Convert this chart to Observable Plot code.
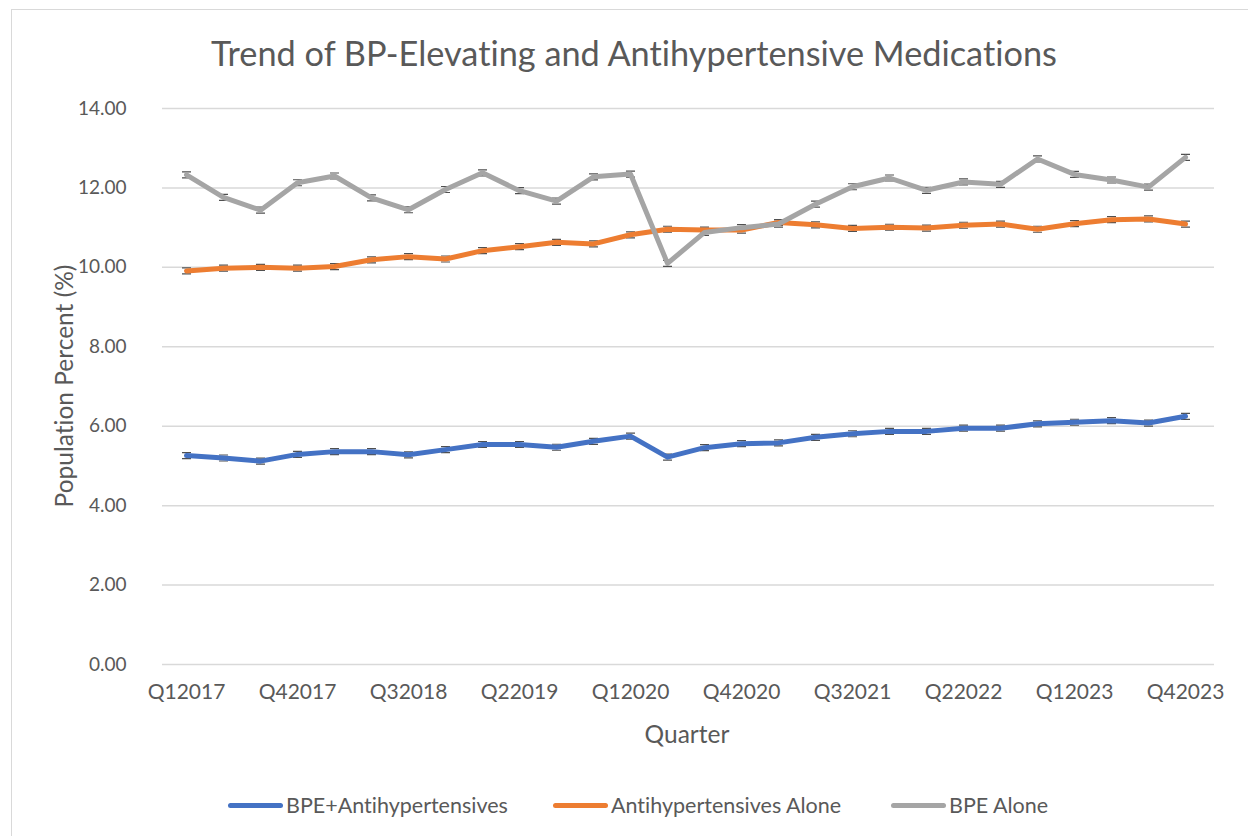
<!DOCTYPE html>
<html>
<head>
<meta charset="utf-8">
<script src="https://cdn.jsdelivr.net/npm/d3@7"></script>
<script src="https://cdn.jsdelivr.net/npm/@observablehq/plot@0.6"></script>
<style>
  html, body { margin: 0; padding: 0; background: #fff; }
  #wrap { position: relative; width: 1248px; height: 836px; overflow: hidden; font-family: Lato, "Open Sans", sans-serif; color: #595959; font-variant-ligatures: none; }
  #frame { position: absolute; left: 11px; top: 9px; width: 1260px; height: 860px; border: 1.5px solid #d9d9d9; box-sizing: border-box; }
  #chart { position: absolute; left: 0; top: 0; }
  .t { position: absolute; white-space: nowrap; }
  #title { left: 0; width: 1268px; text-align: center; top: 32px; font-size: 34.3px; }
  #xlab { left: 0; width: 1374px; text-align: center; top: 719px; font-size: 24.5px; }
  #ylab { left: 63px; top: 386px; font-size: 24.5px; transform: translate(-50%, -50%) rotate(-90deg); }
  .leg { position: absolute; top: 792px; height: 26px; display: flex; align-items: center; font-size: 21.5px; }
  .sw { width: 55px; height: 5px; border-radius: 3px; margin-right: 3px; }
</style>
</head>
<body>
<div id="wrap">
  <div id="frame"></div>
  <div id="chart"></div>
  <div class="t" id="title">Trend of BP-Elevating and Antihypertensive Medications</div>
  <div class="t" id="xlab">Quarter</div>
  <div class="t" id="ylab">Population Percent (%)</div>
  <div id="legend"></div>
</div>
<script>
const quarters = [
  "Q12017","Q22017","Q32017","Q42017",
  "Q12018","Q22018","Q32018","Q42018",
  "Q12019","Q22019","Q32019","Q42019",
  "Q12020","Q22020","Q32020","Q42020",
  "Q12021","Q22021","Q32021","Q42021",
  "Q12022","Q22022","Q32022","Q42022",
  "Q12023","Q22023","Q32023","Q42023"
];
const xTickLabels = ["Q12017","Q42017","Q32018","Q22019","Q12020","Q42020","Q32021","Q22022","Q12023","Q42023"];
const yTicks = [0, 2, 4, 6, 8, 10, 12, 14];

const seriesNames = ["BPE+Antihypertensives", "Antihypertensives Alone", "BPE Alone"];
const seriesColors = ["#4472C4", "#ED7D31", "#A5A5A5"];

const bpeAntihypertensives = [5.26,5.20,5.12,5.29,5.36,5.36,5.28,5.41,5.54,5.54,5.47,5.62,5.75,5.22,5.46,5.56,5.58,5.72,5.81,5.87,5.87,5.95,5.95,6.06,6.10,6.14,6.08,6.25];
const antihypertensivesAlone = [9.91,9.98,10.00,9.98,10.02,10.19,10.27,10.21,10.42,10.52,10.63,10.59,10.82,10.96,10.94,10.94,11.13,11.07,10.98,11.01,10.99,11.06,11.09,10.96,11.10,11.20,11.22,11.09];
const bpeAlone = [12.33,11.76,11.44,12.13,12.30,11.75,11.45,11.96,12.38,11.93,11.67,12.28,12.35,10.10,10.88,11.00,11.09,11.59,12.03,12.25,11.94,12.15,12.09,12.73,12.34,12.20,12.02,12.77];

const seriesValues = [bpeAntihypertensives, antihypertensivesAlone, bpeAlone];

const rows = seriesValues.map((vals, s) => vals.map((v, i) => ({quarter: quarters[i], value: v, series: seriesNames[s]})));
const allRows = rows.flat();

// error-bar caps: two short horizontal strokes
const capSymbol = {
  draw(ctx, size) {
    const w = 4.5, o = 3;
    ctx.moveTo(-w, -o); ctx.lineTo(w, -o);
    ctx.moveTo(-w, o); ctx.lineTo(w, o);
  }
};

const chart = Plot.plot({
  width: 1248,
  height: 836,
  marginLeft: 162,
  marginRight: 34,
  marginTop: 108,
  marginBottom: 172,
  style: {fontFamily: "Lato, 'Open Sans', sans-serif", fontSize: "19px", color: "#595959", background: "transparent", overflow: "visible"},
  x: {type: "point", domain: quarters, range: [176, 1195], padding: 0},
  y: {domain: [0, 14]},
  marks: [
    Plot.gridY(yTicks, {stroke: "#d9d9d9", strokeOpacity: 1, strokeWidth: 1.5}),
    Plot.axisY(yTicks, {tickSize: 0, tickPadding: 36, tickFormat: d3.format(".2f"), label: null}),
    Plot.axisX(xTickLabels, {tickSize: 0, tickPadding: 20, label: null, fontSize: 21}),
    Plot.dot(allRows, {x: "quarter", y: "value", symbol: capSymbol, r: 4, stroke: "#505050", strokeWidth: 1.2, fill: "none"}),
    ...rows.map((r, s) => Plot.line(r, {x: "quarter", y: "value", stroke: seriesColors[s], strokeWidth: 5, strokeLinejoin: "round", strokeLinecap: "round"}))
  ]
});
document.getElementById("chart").appendChild(chart);

const legendLefts = [228, 553, 891];
const legend = document.getElementById("legend");
seriesNames.forEach((name, i) => {
  const item = document.createElement("div");
  item.className = "leg";
  item.style.left = legendLefts[i] + "px";
  const sw = document.createElement("div");
  sw.className = "sw";
  sw.style.background = seriesColors[i];
  const tx = document.createElement("span");
  tx.textContent = name;
  item.appendChild(sw);
  item.appendChild(tx);
  legend.appendChild(item);
});
</script>
</body>
</html>
